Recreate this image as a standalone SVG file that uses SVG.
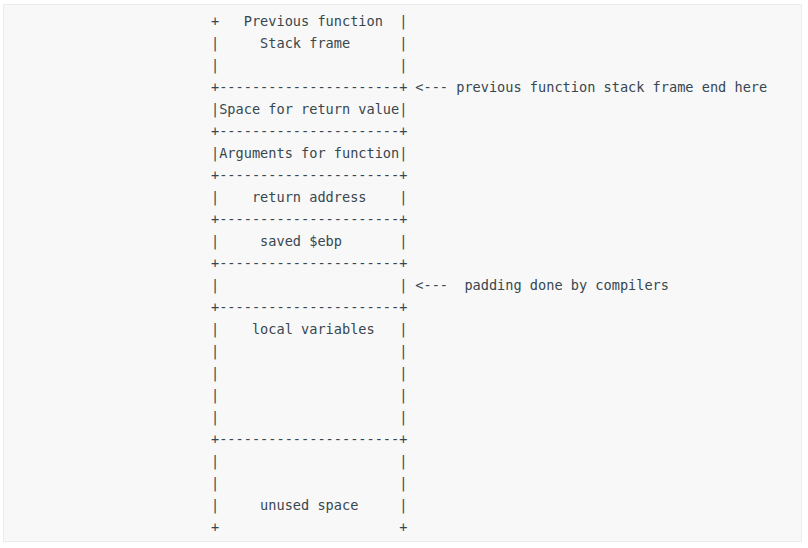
<svg xmlns="http://www.w3.org/2000/svg" width="808" height="548" viewBox="0 0 808 548">
<style>
text{font-family:"DejaVu Sans Mono","Liberation Mono",monospace;font-size:13.6px;fill:#37474f;white-space:pre}
</style>
<rect x="0" y="0" width="808" height="548" fill="#ffffff"/>
<rect x="3.5" y="4.5" width="798" height="537" fill="#f8f8f8" stroke="#ececec" stroke-width="1"/>
<g id="prev-frame">
<text x="211" y="26" xml:space="preserve">+   Previous function  |</text>
<text x="211" y="48" xml:space="preserve">|     Stack frame      |</text>
<text x="211" y="70" xml:space="preserve">|                      |</text>
<text x="211" y="92" xml:space="preserve">+----------------------+</text>
</g>
<g id="return-value">
<text x="211" y="114" xml:space="preserve">|Space for return value|</text>
<text x="211" y="136" xml:space="preserve">+----------------------+</text>
</g>
<g id="arguments">
<text x="211" y="158" xml:space="preserve">|Arguments for function|</text>
<text x="211" y="180" xml:space="preserve">+----------------------+</text>
</g>
<g id="return-address">
<text x="211" y="202" xml:space="preserve">|    return address    |</text>
<text x="211" y="224" xml:space="preserve">+----------------------+</text>
</g>
<g id="saved-ebp">
<text x="211" y="246" xml:space="preserve">|     saved $ebp       |</text>
<text x="211" y="268" xml:space="preserve">+----------------------+</text>
</g>
<g id="padding">
<text x="211" y="290" xml:space="preserve">|                      |</text>
<text x="211" y="312" xml:space="preserve">+----------------------+</text>
</g>
<g id="local-variables">
<text x="211" y="334" xml:space="preserve">|    local variables   |</text>
<text x="211" y="356" xml:space="preserve">|                      |</text>
<text x="211" y="378" xml:space="preserve">|                      |</text>
<text x="211" y="400" xml:space="preserve">|                      |</text>
<text x="211" y="422" xml:space="preserve">|                      |</text>
<text x="211" y="444" xml:space="preserve">+----------------------+</text>
</g>
<g id="unused-space">
<text x="211" y="466" xml:space="preserve">|                      |</text>
<text x="211" y="488" xml:space="preserve">|                      |</text>
<text x="211" y="510" xml:space="preserve">|     unused space     |</text>
<text x="211" y="532" xml:space="preserve">+                      +</text>
</g>
<g id="connectors">
<text x="407.1" y="92" xml:space="preserve"> &lt;--- previous function stack frame end here</text>
<text x="407.1" y="290" xml:space="preserve"> &lt;---  padding done by compilers</text>
</g>
</svg>
